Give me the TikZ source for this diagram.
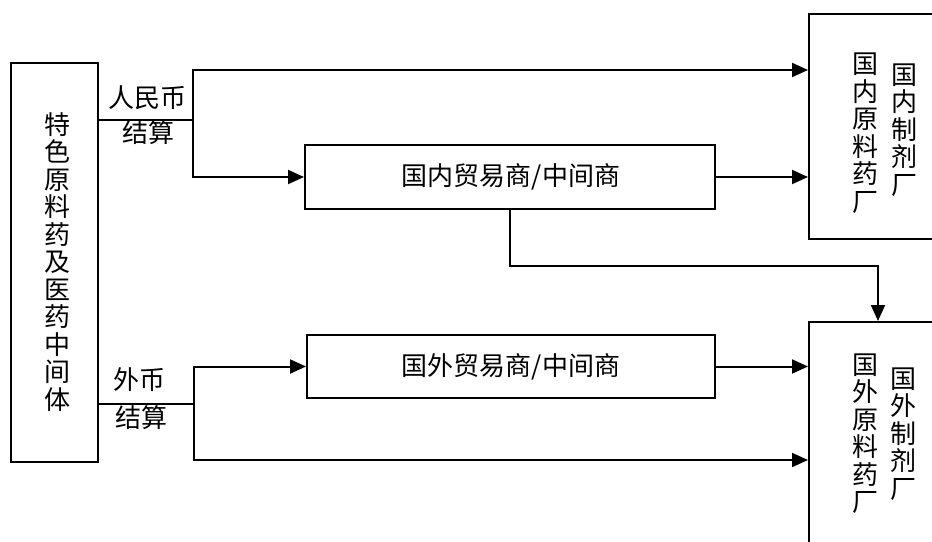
\documentclass[tikz,border=0pt]{standalone}
\usepackage{fontspec}
\newfontfamily\cjk{Noto Sans CJK SC}
\usetikzlibrary{arrows.meta}
\tikzset{
  box/.style={draw, line width=2pt, rectangle, inner sep=0pt},
  lbl/.style={font=\cjk\fontsize{26}{27}\selectfont, inner sep=0pt, align=center},
  vtxt/.style={font=\cjk\fontsize{26}{27.5}\selectfont, inner sep=0pt, align=center},
  conn/.style={line width=2pt},
  arr/.style={line width=2pt, -{Triangle[length=16pt,width=14pt]}}
}
\begin{document}
\begin{tikzpicture}[x=1pt,y=-1pt]
\useasboundingbox (0,0) rectangle (932,541);
\fill[white] (0,0) rectangle (932,541);
\clip (0,0) rectangle (932,541);
% boxes
\node[box, minimum width=87pt, minimum height=399pt] (src) at (54.5,262.5) {};
\node[vtxt] (srctxt) at (57,262) {特\\色\\原\\料\\药\\及\\医\\药\\中\\间\\体};
\node[box, minimum width=410pt, minimum height=64pt] (dom) at (510,177) {};
\node[lbl] (domtxt) at (511,177) {国内贸易商/中间商};
\node[box, minimum width=408pt, minimum height=63pt] (for) at (511,366.5) {};
\node[lbl] (fortxt) at (511,366.5) {国外贸易商/中间商};
\node[box, minimum width=151pt, minimum height=225pt] (topR) at (884.5,126.5) {};
\node[vtxt] (topa) at (865,133) {国\\内\\原\\料\\药\\厂};
\node[vtxt] (topb) at (904,130) {国\\内\\制\\剂\\厂};
\node[box, minimum width=151pt, minimum height=238pt] (botR) at (884.5,441) {};
\node[vtxt] (bota) at (865,433.5) {国\\外\\原\\料\\药\\厂};
\node[vtxt] (botb) at (903,434) {国\\外\\制\\剂\\厂};
% labels
\node[lbl] (rmb) at (147,98) {人民币};
\node[lbl] (js1) at (148,133) {结算};
\node[lbl] (wb) at (139,380) {外币};
\node[lbl] (js2) at (141,418) {结算};
% junctions
\coordinate (j1) at (193,120);
\coordinate (j2) at (194,404);
\coordinate (k) at (878,266);
% connectors
\draw[conn] (src.east |- j1) -- (j1);
\draw[arr] (j1) |- (topR.west |- 0,70);
\draw[arr] (j1) |- (dom.west);
\draw[arr] (dom.east) -- (topR.west |- dom.east);
\draw[arr] (dom.south) |- (k) -- (botR.north -| k);
\draw[conn] (src.east |- j2) -- (j2);
\draw[arr] (j2) |- (for.west);
\draw[arr] (j2) |- (botR.west |- 0,460);
\draw[arr] (for.east) -- (botR.west |- for.east);
\end{tikzpicture}
\end{document}
